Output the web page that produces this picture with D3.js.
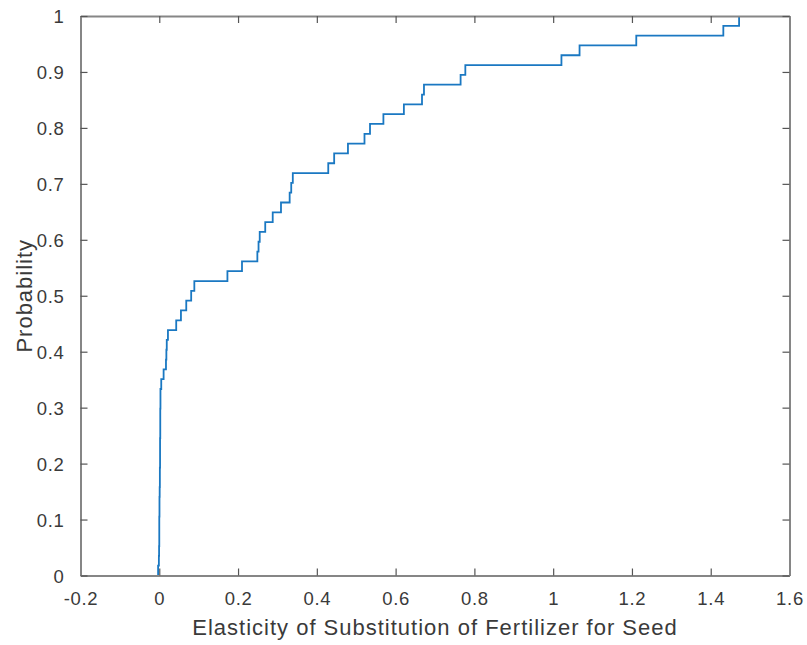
<!DOCTYPE html>
<html>
<head>
<meta charset="utf-8">
<script src="https://cdn.jsdelivr.net/npm/d3@7"></script>
<style>
  html, body { margin: 0; padding: 0; background: #ffffff; }
  svg { display: block; }
  text { font-family: "Liberation Sans", Arial, Helvetica, sans-serif; }
</style>
</head>
<body>
<svg id="chart" width="807" height="645"></svg>
<script>
// Sorted sample values (elasticity estimates) read from the empirical CDF
const sampleValues = [
  -0.003, -0.001, -0.0005, 0.0, 0.0, 0.0, 0.0005, 0.0005, 0.001,
  0.0015, 0.0015, 0.002, 0.002, 0.002, 0.0025, 0.0025, 0.0025, 0.003, 0.003,
  0.005, 0.011, 0.017, 0.018, 0.019, 0.022,
  0.043, 0.055, 0.0685, 0.081, 0.089,
  0.173, 0.210, 0.249, 0.252, 0.255, 0.269, 0.288, 0.309,
  0.331, 0.335, 0.339, 0.429, 0.444, 0.479, 0.521, 0.535, 0.569,
  0.621, 0.667, 0.672, 0.765, 0.777,
  1.021, 1.067, 1.211, 1.432, 1.472
];
const xTicks = [-0.2, 0, 0.2, 0.4, 0.6, 0.8, 1, 1.2, 1.4, 1.6];
const yTicks = [0, 0.1, 0.2, 0.3, 0.4, 0.5, 0.6, 0.7, 0.8, 0.9, 1];
const xTickLabels = ["-0.2", "0", "0.2", "0.4", "0.6", "0.8", "1", "1.2", "1.4", "1.6"];
const yTickLabels = ["0", "0.1", "0.2", "0.3", "0.4", "0.5", "0.6", "0.7", "0.8", "0.9", "1"];
const xLabel = "Elasticity of Substitution of Fertilizer for Seed";
const yLabel = "Probability";

const svg = d3.select("#chart");
const mLeft = 80.5, mRight = 789.5, mTop = 16, mBottom = 575.5;
const x = d3.scaleLinear().domain([-0.2, 1.6]).range([mLeft, mRight]);
const y = d3.scaleLinear().domain([0, 1]).range([mBottom, mTop]);

const boxColor = "#868686";
const textColor = "#3a3a3a";
const tickLen = 7;

// ECDF staircase
const n = sampleValues.length;
const pts = [[sampleValues[0], 0]].concat(sampleValues.map((v, i) => [v, (i + 1) / n]));
const line = d3.line().x(d => x(d[0])).y(d => y(d[1])).curve(d3.curveStepAfter);
svg.append("path")
  .attr("d", line(pts))
  .attr("fill", "none")
  .attr("stroke", "#1a78c2")
  .attr("stroke-width", 1.8);

// Axes (ticks inside, MATLAB style)
const gBottom = svg.append("g").attr("transform", `translate(0,${mBottom})`)
  .call(d3.axisBottom(x).tickValues(xTicks).tickSizeInner(-tickLen).tickSizeOuter(0)
    .tickFormat((d, i) => xTickLabels[i]).tickPadding(18));
const gTop = svg.append("g").attr("transform", `translate(0,${mTop})`)
  .call(d3.axisTop(x).tickValues(xTicks).tickSizeInner(-tickLen).tickSizeOuter(0).tickFormat(""));
const gLeft = svg.append("g").attr("transform", `translate(${mLeft},0)`)
  .call(d3.axisLeft(y).tickValues(yTicks).tickSizeInner(-tickLen).tickSizeOuter(0)
    .tickFormat((d, i) => yTickLabels[i]).tickPadding(16));
const gRight = svg.append("g").attr("transform", `translate(${mRight},0)`)
  .call(d3.axisRight(y).tickValues(yTicks).tickSizeInner(-tickLen).tickSizeOuter(0).tickFormat(""));

[gBottom, gTop, gLeft, gRight].forEach(g => {
  g.select(".domain").attr("stroke", boxColor).attr("stroke-width", 2);
  g.selectAll(".tick line").attr("stroke", "#555").attr("stroke-width", 1.2);
  g.selectAll(".tick text")
    .attr("fill", textColor)
    .style("font-size", "18.5px")
    .style("letter-spacing", "0.7px");
});
gBottom.selectAll(".tick text").attr("dy", "0.71em").attr("y", 16);
gLeft.selectAll(".tick text").attr("dy", "0.36em");

// Axis titles
svg.append("text")
  .attr("x", (mLeft + mRight) / 2)
  .attr("y", 635)
  .attr("text-anchor", "middle")
  .attr("fill", textColor)
  .style("font-size", "22px")
  .style("letter-spacing", "1px")
  .text(xLabel);

svg.append("text")
  .attr("transform", `translate(32,${(mTop + mBottom) / 2}) rotate(-90)`)
  .attr("text-anchor", "middle")
  .attr("fill", textColor)
  .style("font-size", "22px")
  .style("letter-spacing", "1px")
  .text(yLabel);
</script>
</body>
</html>
